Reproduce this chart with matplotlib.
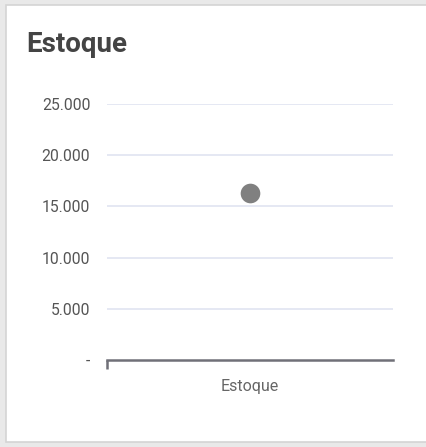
import matplotlib
matplotlib.use("Agg")
import matplotlib.pyplot as plt
from matplotlib.patches import Rectangle
from matplotlib.ticker import FuncFormatter

categories = ["Estoque"]
values = [16300]
yticks = [0, 5000, 10000, 15000, 20000, 25000]

plt.rcParams['font.family'] = ['Roboto', 'DejaVu Sans']

W, H = 427, 447
fig = plt.figure(figsize=(W / 100, H / 100), dpi=100)
fig.patch.set_facecolor('#e9e9e9')

# card background via a background axes
bg = fig.add_axes([0, 0, 1, 1], zorder=-10)
bg.set_xlim(0, W)
bg.set_ylim(H, 0)
bg.axis('off')
bg.add_patch(Rectangle((6.5, 4.5), W, H - 5.5 - 4.5, facecolor='white',
                       edgecolor='#d4d4d4', linewidth=1.2))

fig.text(26 / W, 1 - 45 / H, "Estoque", fontsize=20, fontweight='bold', color='#444444',
         va='center', ha='left')

x0, x1 = 107, 393
ytop_px, ybot_px = 104, 360
ax = fig.add_axes([x0 / W, 1 - ybot_px / H, (x1 - x0) / W, (ybot_px - ytop_px) / H])
ax.set_facecolor('none')
ax.set_xlim(-0.5, 0.5)
ax.set_ylim(0, 25000)

ax.scatter(range(len(categories)), values, s=200, color='#808080', zorder=3, linewidths=0)

ax.set_yticks(yticks)
ax.yaxis.set_major_formatter(FuncFormatter(
    lambda v, p: '-' if v == 0 else f"{int(v):,}".replace(',', '.')))
ax.set_xticks(range(len(categories)))
ax.set_xticklabels(categories)

for y in yticks[1:]:
    ax.axhline(y, color='#e3e6f2', linewidth=1.3, zorder=1)

for s in ['top', 'right', 'left']:
    ax.spines[s].set_visible(False)
ax.spines['bottom'].set_color('#707078')
ax.spines['bottom'].set_linewidth(1.8)

ax.tick_params(axis='y', length=0, pad=12, labelsize=11.3, labelcolor='#555555')
ax.tick_params(axis='x', length=0, pad=14, labelsize=11.5, labelcolor='#666666')

# small tick at left end of axis
ax.plot([-0.5, -0.5], [0, -0.035], transform=ax.get_xaxis_transform(), color='#707078',
        linewidth=1.8, clip_on=False, solid_capstyle='butt')

fig.savefig("out.png", dpi=100, facecolor=fig.get_facecolor())
